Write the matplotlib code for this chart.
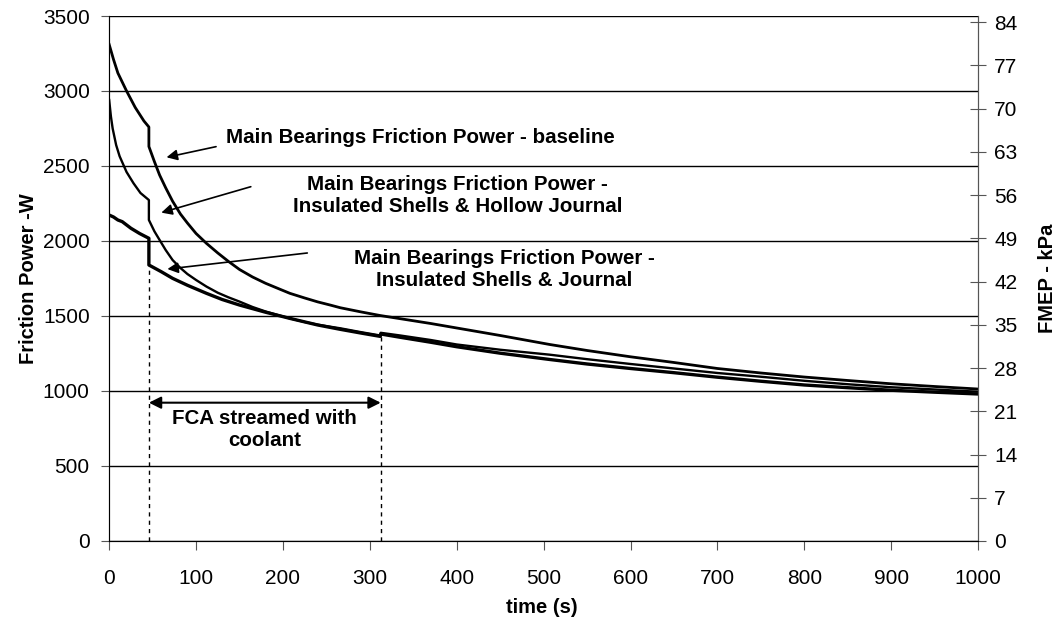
#friction power of the main bearings during warm-up
#three configurations, left axis in W and right axis in FMEP (kPa)
from matplotlib import pyplot as plt

plt.rcParams['font.family'] = ['Liberation Sans', 'DejaVu Sans']

#baseline
t_base = [0, 5, 10, 20, 30, 40, 45.7, 45.7, 52, 58, 65, 73, 82, 90, 100, 112, 125, 137, 150,
          165, 180, 195, 208, 225, 240, 255, 266, 290, 312, 335, 370, 400, 450, 507, 550,
          600, 650, 700, 750, 800, 850, 900, 950, 1000]
w_base = [3310, 3210, 3120, 3000, 2890, 2800, 2760, 2630, 2530, 2440, 2355, 2265, 2180, 2120,
          2050, 1984, 1920, 1865, 1810, 1760, 1718, 1682, 1651, 1620, 1594, 1572, 1555, 1527,
          1503, 1482, 1450, 1420, 1370, 1310, 1270, 1228, 1190, 1150, 1120, 1093, 1070, 1048,
          1030, 1013]

#insulated shells & hollow journal
t_hollow = [0, 2, 4, 8, 12, 20, 28, 36, 45.7, 45.7, 52, 58, 65, 73, 82, 90, 100, 112, 125,
            137, 150, 165, 180, 195, 208, 225, 240, 255, 266, 290, 312, 312.5, 335, 370, 400,
            450, 507, 550, 600, 650, 700, 750, 800, 850, 900, 950, 1000]
w_hollow = [2940, 2830, 2750, 2640, 2565, 2460, 2385, 2320, 2273, 2140, 2065, 2007, 1940, 1873,
            1820, 1780, 1740, 1696, 1655, 1625, 1596, 1560, 1530, 1505, 1484, 1460, 1442, 1428,
            1418, 1392, 1370, 1388, 1370, 1340, 1310, 1275, 1242, 1212, 1180, 1150, 1120, 1095,
            1068, 1045, 1025, 1010, 995]

#insulated shells & journal
t_journal = [0, 5, 10, 15, 25, 35, 45.7, 45.7, 60, 73, 90, 112, 130, 150, 180, 208, 240, 266,
             290, 312, 312.5, 335, 370, 400, 450, 507, 550, 600, 650, 700, 750, 800, 850, 900,
             950, 1000]
w_journal = [2173, 2160, 2140, 2129, 2085, 2050, 2018, 1840, 1795, 1751, 1705, 1651, 1610, 1573,
             1525, 1484, 1440, 1411, 1386, 1364, 1380, 1358, 1325, 1295, 1252, 1210, 1180, 1150,
             1122, 1092, 1065, 1040, 1022, 1005, 992, 980]

#period where the FCA was streamed with coolant
fca_start = 45.7
fca_end = 312.5

fig = plt.figure(figsize=(10.6, 6.3), dpi=100)
ax = fig.add_axes([0.103, 0.1413, 0.8197, 0.8333])

ax.plot(t_base, w_base, color='black', linewidth=2.0, solid_joinstyle='round')
ax.plot(t_hollow, w_hollow, color='black', linewidth=1.7, solid_joinstyle='round')
ax.plot(t_journal, w_journal, color='black', linewidth=2.4, solid_joinstyle='round')

ax.set_xlim(0, 1000)
ax.set_ylim(0, 3500)
ax.set_xticks(range(0, 1001, 100))
ax.set_yticks(range(0, 3501, 500))
ax.grid(axis='y', color='black', linewidth=1.0)
ax.set_axisbelow(True)
ax.tick_params(labelsize=15, direction='out', color='#555555')
ax.tick_params(axis='x', length=6.5, pad=14)
ax.tick_params(axis='y', length=6, pad=8)
ax.spines['top'].set_visible(False)
for s in ['left', 'bottom', 'right']:
    ax.spines[s].set_color('#555555')
ax.set_xlabel('time (s)', fontsize=14.5, fontweight='bold')
ax.set_ylabel('Friction Power -W', fontsize=14.5, fontweight='bold')
ax.xaxis.set_label_coords(0.498, -0.108)
ax.yaxis.set_label_coords(-0.082, 0.5)

#right axis with FMEP
ax2 = ax.twinx()
ax2.set_ylim(0, 85)
ax2.set_yticks(range(0, 85, 7))
ax2.tick_params(labelsize=15, direction='inout', length=11, pad=6, color='#555555')
ax2.spines['top'].set_visible(False)
ax2.spines['right'].set_color('#555555')
ax2.set_ylabel('FMEP - kPa', fontsize=14.5, fontweight='bold')
ax2.yaxis.set_label_coords(1.069, 0.5)

#dashed markers for the coolant period
ax.plot([fca_start, fca_start], [0, 1840], color='black', linestyle=(0, (3, 3)), linewidth=1)
ax.plot([fca_end, fca_end], [0, 1370], color='black', linestyle=(0, (3, 3)), linewidth=1)
ax.annotate('', xy=(fca_start, 922), xytext=(fca_end, 922),
            arrowprops=dict(arrowstyle='<|-|>', color='black', lw=1.5, shrinkA=0, shrinkB=0,
                            mutation_scale=18))
ax.text(179, 743, 'FCA streamed with\ncoolant', ha='center', va='center',
        fontsize=14.8, fontweight='bold', linespacing=1.2)

arrow = dict(arrowstyle='-|>', color='black', lw=1.2, shrinkA=0, shrinkB=0, mutation_scale=16)
ax.annotate('Main Bearings Friction Power - baseline', xy=(66, 2558), xytext=(134, 2687),
            fontsize=14.8, fontweight='bold', va='center', ha='left')
ax.annotate('', xy=(66, 2558), xytext=(123, 2629), arrowprops=arrow)
ax.annotate('Main Bearings Friction Power -\nInsulated Shells & Hollow Journal',
            xy=(60, 2189), xytext=(401, 2303), fontsize=14.8, fontweight='bold',
            va='center', ha='center', linespacing=1.2)
ax.annotate('', xy=(60, 2189), xytext=(163, 2362), arrowprops=arrow)
ax.annotate('Main Bearings Friction Power -\nInsulated Shells & Journal',
            xy=(67, 1813), xytext=(455, 1807), fontsize=14.8, fontweight='bold',
            va='center', ha='center', linespacing=1.2)
ax.annotate('', xy=(67, 1813), xytext=(228, 1920), arrowprops=arrow)

fig.savefig('out.png', dpi=100)
